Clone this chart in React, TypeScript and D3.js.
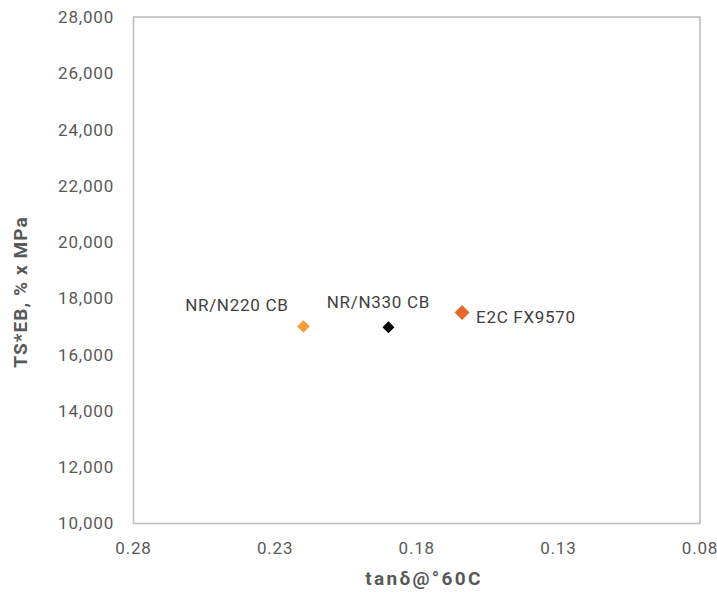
import React from "react";
import * as d3 from "d3";

const seriesNames = ["NR/N220 CB", "NR/N330 CB", "E2C FX9570"];
const tanDelta = [0.22, 0.19, 0.164];
const tsEb = [17000, 16970, 17500];
const seriesColors = ["#F79A38", "#000000", "#E4692E"];
const markerRadius = [6.3, 6, 7.5];
const labelDx = [-15, -10, 14];
const labelDy = [-16, -19, 11];
const labelAnchor = ["end", "middle", "start"];

const xTicks = [0.28, 0.23, 0.18, 0.13, 0.08];
const yTicks = [10000, 12000, 14000, 16000, 18000, 20000, 22000, 24000, 26000, 28000];

const W = 717;
const H = 592;
const left = 133.5;
const right = 700;
const top = 17;
const bottom = 523.5;

export default function App() {
  const x = d3.scaleLinear().domain([0.28, 0.08]).range([left, right]);
  const y = d3.scaleLinear().domain([10000, 28000]).range([bottom, top]);
  const fmtY = d3.format(",");
  const fmtX = d3.format(".2f");
  const font = "Roboto, 'Noto Sans', sans-serif";
  const diamond = (r: number) => `M0,${-r}L${r},0L0,${r}L${-r},0Z`;

  return (
    <svg
      width={W}
      height={H}
      style={{ position: "absolute", left: 0, top: 0, background: "#fff" }}
      fontFamily={font}
    >
      <rect
        x={left}
        y={top}
        width={right - left}
        height={bottom - top}
        fill="none"
        stroke="#BFBFBF"
        strokeWidth={1.6}
      />
      {yTicks.map((t) => (
        <text
          key={"y" + t}
          x={114}
          y={y(t)}
          dy="0.35em"
          textAnchor="end"
          fontSize={17}
          letterSpacing={0.8}
          fill="#595959"
        >
          {fmtY(t)}
        </text>
      ))}
      {xTicks.map((t) => (
        <text
          key={"x" + t}
          x={x(t)}
          y={554}
          textAnchor="middle"
          fontSize={17}
          letterSpacing={0.8}
          fill="#595959"
        >
          {fmtX(t)}
        </text>
      ))}
      <text
        transform={`translate(27,292) rotate(-90)`}
        textAnchor="middle"
        fontSize={19}
        fontWeight="bold"
        letterSpacing={1.1}
        fill="#595959"
      >
        TS*EB, % x MPa
      </text>
      <text
        x={424}
        y={585}
        textAnchor="middle"
        fontSize={19}
        fontWeight="bold"
        letterSpacing={2.3}
        fill="#595959"
      >
        tanδ@°60C
      </text>
      {seriesNames.map((name, i) => (
        <g key={name}>
          <path
            d={diamond(markerRadius[i])}
            transform={`translate(${x(tanDelta[i])},${y(tsEb[i])})`}
            fill={seriesColors[i]}
          />
          <text
            x={x(tanDelta[i]) + labelDx[i]}
            y={y(tsEb[i]) + labelDy[i]}
            textAnchor={labelAnchor[i] as any}
            fontSize={17}
            letterSpacing={0.7}
            fill="#404040"
          >
            {name}
          </text>
        </g>
      ))}
    </svg>
  );
}
